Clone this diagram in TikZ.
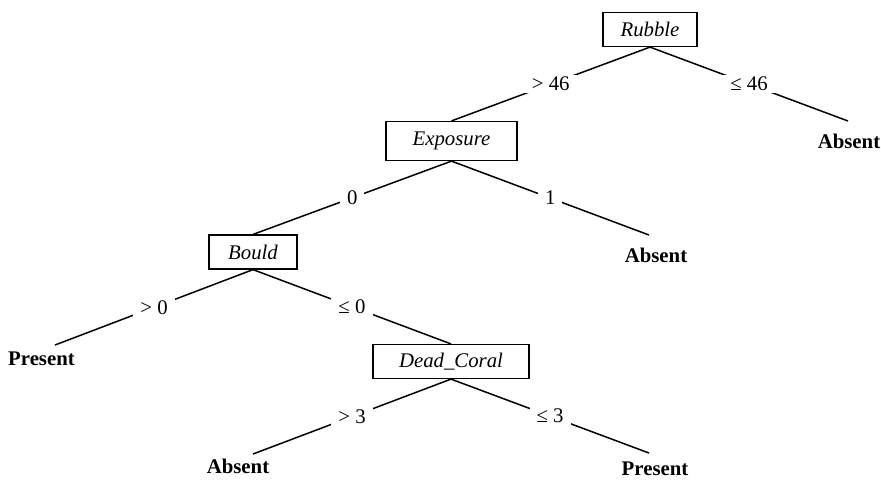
\documentclass[tikz,border=0pt]{standalone}
\usepackage{fontspec}
\setmainfont{Liberation Serif}
\usetikzlibrary{positioning}

\begin{document}
\begin{tikzpicture}[x=0.5pt, y=-0.5pt,
  attr/.style={draw, line width=0.6pt, inner sep=0pt, minimum height=17pt,
               font=\fontsize{10.4}{12}\selectfont\itshape},
  cond/.style={fill=white, inner xsep=3.5pt, inner ysep=1pt,
               font=\fontsize{10.4}{12}\selectfont},
  leaf/.style={inner sep=0pt, font=\fontsize{10.4}{12}\selectfont\bfseries},
  edge/.style={line width=0.75pt},
]
\useasboundingbox (0,0) rectangle (881,479);

% Split nodes
\node[attr, minimum width=47pt] (rubble) at (650, 29.5) {Rubble};
\node[attr, minimum width=65.5pt, minimum height=19.5pt] (exposure) at (451.5, 141) {Exposure};
\node[attr, minimum width=44pt] (bould) at (253, 252) {Bould};
\node[attr, minimum width=78pt] (coral) at (451, 361.5) {Dead\_Coral};

% Leaves
\coordinate (e1) at (848, 121);
\coordinate (e2) at (649, 235);
\coordinate (e3) at (55, 345);
\coordinate (e4) at (253, 454);
\coordinate (e5) at (649, 453);
\node[leaf] (abs1) at (849, 141) {Absent};
\node[leaf] (abs2) at (656, 255.5) {Absent};
\node[leaf] (pres1) at (41.5, 359) {Present};
\node[leaf] (abs3) at (238, 466.5) {Absent};
\node[leaf] (pres2) at (655, 468.5) {Present};

% Branches
\draw[edge] (rubble.south) -- node[cond] (c1) {> 46} (exposure.north);
\draw[edge] (rubble.south) -- node[cond] (c2) {≤ 46} (e1);
\draw[edge] (exposure.south) -- node[cond] (c3) {0} (bould.north);
\draw[edge] (exposure.south) -- node[cond] (c4) {1} (e2);
\draw[edge] (bould.south) -- node[cond] (c5) {> 0} (e3);
\draw[edge] (bould.south) -- node[cond] (c6) {≤ 0} (coral.north);
\draw[edge] (coral.south) -- node[cond] (c7) {> 3} (e4);
\draw[edge] (coral.south) -- node[cond] (c8) {≤ 3} (e5);
\end{tikzpicture}
\end{document}
